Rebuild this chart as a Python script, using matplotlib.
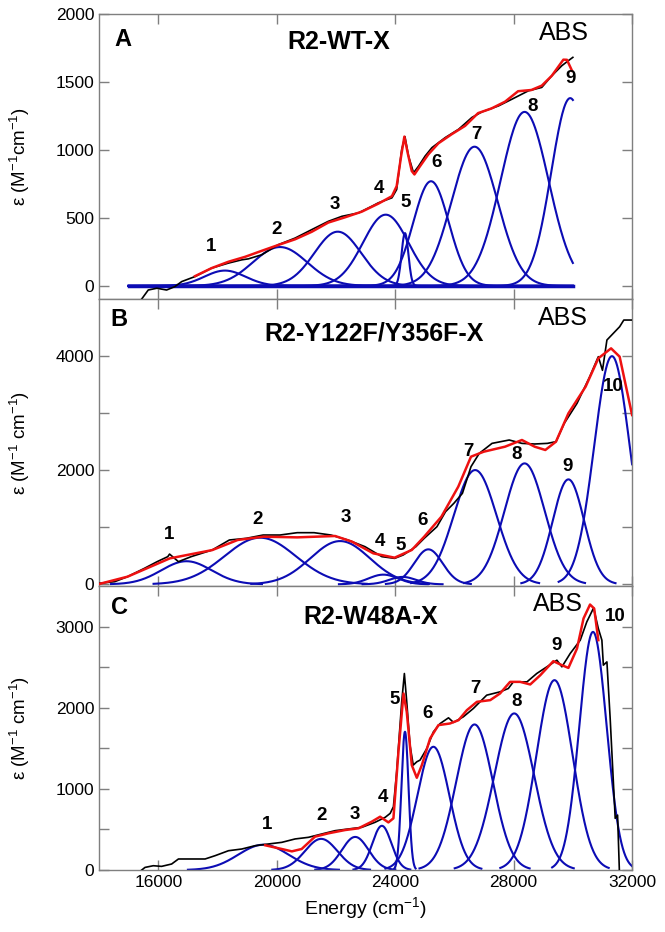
import numpy as np
import matplotlib
matplotlib.use("Agg")
import matplotlib.pyplot as plt

plt.rcParams['font.family'] = ['Liberation Sans', 'DejaVu Sans']
plt.rcParams['mathtext.fontset'] = 'custom'
plt.rcParams['mathtext.rm'] = 'Liberation Sans'
plt.rcParams['mathtext.default'] = 'regular'

# ---------------- panel A : R2-WT-X ----------------
a_abs_e = [15440, 15660, 15950, 16280, 16560, 16790, 17240, 17800, 18370, 18820, 19040,
           19490, 20050, 20620, 21180, 21740, 22200, 22760, 23210, 23430, 23890, 24050,
           24220, 24330, 24450, 24620, 24790, 25010, 25240, 25690, 26140, 26590, 26930,
           27490, 27940, 28500, 28950, 29290, 29630, 29850, 30000]
a_abs_v = [-96, -30, -17, -30, -5, 32, 69, 131, 168, 192, 199,
           229, 303, 352, 414, 475, 512, 537, 586, 611, 648, 709,
           1004, 1098, 955, 832, 881, 955, 1017, 1091, 1152, 1239, 1280,
           1324, 1373, 1435, 1460, 1546, 1620, 1657, 1681]
a_fit_e = [17240, 17800, 18370, 18930, 19490, 20050, 20620, 21180, 21740, 22310, 22870,
           23430, 23890, 24050, 24200, 24310, 24420, 24560, 24650, 24840, 25120, 25460,
           25910, 26360, 26800, 27250, 27710, 28150, 28600, 28950, 29290, 29680, 29800, 29970]
a_fit_v = [72, 131, 178, 214, 258, 301, 343, 398, 466, 505, 546,
           605, 660, 734, 955, 1098, 980, 845, 820, 881, 968, 1049,
           1116, 1177, 1271, 1305, 1355, 1432, 1441, 1473, 1546, 1664, 1663, 1583]
a_band_c = [18250, 20110, 22060, 23680, 24330, 25210, 26680, 28370, 29910]
a_band_h = [113, 286, 399, 524, 389, 770, 1024, 1280, 1381]
a_band_s = [690, 920, 790, 770, 115, 600, 780, 810, 640]
a_lab_e = [17780, 20000, 21950, 23450, 24370, 25410, 26740, 28630, 29920]
a_lab_v = [289, 417, 596, 718, 613, 909, 1110, 1319, 1522]

# ---------------- panel B : R2-Y122F/Y356F-X ----------------
b_abs_e = [14000, 14530, 14960, 15530, 15960, 16320, 16380, 16680, 17110, 17820, 18400,
           18970, 19540, 20110, 20690, 21260, 21830, 22400, 22980, 23550, 23980, 24270,
           24700, 24980, 25410, 25700, 25980, 26270, 26560, 26840, 27270, 27850, 28280,
           28710, 29140, 29430, 29710, 30140, 30570, 30860, 31000, 31150, 31580, 31720, 32000]
b_abs_v = [18, 47, 134, 280, 397, 485, 530, 397, 485, 602, 777,
           806, 864, 864, 905, 905, 864, 777, 660, 485, 455, 514,
           660, 806, 1010, 1273, 1419, 1594, 2062, 2295, 2470, 2529, 2470,
           2459, 2470, 2500, 2821, 3171, 3638, 3989, 3750, 4281, 4514, 4631, 4631]
b_fit_e = [14000, 14960, 16390, 17820, 18680, 19540, 20690, 21970, 22540, 23260, 23980,
           24560, 24980, 25560, 26130, 26560, 26990, 27710, 28280, 28710, 29070, 29430,
           29850, 30430, 30860, 31290, 31580, 32000]
b_fit_v = [6, 134, 455, 600, 777, 835, 823, 847, 748, 543, 467,
           602, 835, 1185, 1711, 2237, 2324, 2412, 2529, 2412, 2354, 2500,
           2996, 3463, 3960, 4135, 3989, 2967]
b_band_c = [16950, 19440, 22140, 23600, 24250, 25120, 26700, 28370, 29850, 31320]
b_band_h = [405, 817, 758, 170, 130, 613, 2002, 2119, 1839, 3998]
b_band_s = [850, 1200, 1000, 500, 450, 478, 720, 680, 530, 600]
b_lab_e = [16360, 19350, 22330, 23480, 24200, 24940, 26460, 28090, 29820, 31380]
b_lab_v = [876, 1139, 1168, 748, 689, 1127, 2324, 2283, 2073, 3463]

# ---------------- panel C : R2-W48A-X ----------------
c_abs_e = [15440, 15550, 15830, 16110, 16450, 16680, 17130, 17580, 17920, 18370, 18820,
           19270, 19720, 20170, 20620, 21070, 21520, 21970, 22420, 22870, 23320, 23660,
           23830, 23940, 24050, 24220, 24310, 24390, 24500, 24610, 24730, 24840, 25070,
           25290, 25520, 25800, 25970, 26300, 26640, 27090, 27540, 27820, 27990, 28450,
           28780, 29120, 29460, 29630, 29910, 30250, 30470, 30700, 30860, 30980, 31030,
           31150, 31260, 31430, 31510, 31570]
c_abs_v = [0, 32, 53, 45, 74, 136, 136, 136, 177, 238, 259,
           300, 321, 341, 383, 403, 444, 485, 506, 526, 588, 649,
           698, 780, 1211, 2073, 2422, 2073, 1539, 1293, 1334, 1355, 1499,
           1703, 1806, 1876, 1819, 1888, 1991, 2155, 2196, 2237, 2319, 2319,
           2422, 2504, 2586, 2504, 2669, 2833, 3058, 3230, 2977, 2833, 2525,
           2565, 1868, 637, 677, 0]
c_fit_e = [19610, 20170, 20510, 20840, 21290, 21740, 22310, 22760, 23210, 23490, 23770,
           23940, 24110, 24280, 24390, 24560, 24730, 24900, 25180, 25460, 25850, 26140,
           26420, 26760, 27210, 27540, 27880, 28220, 28560, 28900, 29340, 29630, 29850,
           30140, 30360, 30580, 30720, 30860]
c_fit_v = [305, 259, 230, 259, 411, 452, 493, 514, 596, 657, 587,
           637, 1457, 2176, 1950, 1293, 1137, 1293, 1622, 1786, 1806, 1847,
           1970, 2073, 2094, 2176, 2319, 2319, 2287, 2401, 2574, 2525, 2491,
           2730, 3100, 3272, 3223, 2833]
c_band_c = [19550, 21500, 22650, 23550, 24330, 25290, 26680, 28020, 29380, 30680]
c_band_h = [312, 384, 408, 545, 1704, 1519, 1794, 1930, 2340, 2935]
c_band_s = [850, 550, 450, 320, 120, 540, 620, 670, 610, 460]
c_lab_e = [19660, 21500, 22650, 23590, 23980, 25100, 26700, 28100, 29450, 31420]
c_lab_v = [555, 670, 690, 896, 2100, 1923, 2240, 2075, 2766, 3124]

BLUE = '#0c0cb4'
RED = '#ee1111'
GREY = '#7f7f7f'

fig = plt.figure(figsize=(6.65, 9.32), dpi=100)
left, width = 0.149, 0.8015
axA = fig.add_axes([left, 0.6792, width, 0.3058])
axB = fig.add_axes([left, 0.3712, width, 0.3080])
axC = fig.add_axes([left, 0.0665, width, 0.3047])


def draw_bands(ax, cen, hgt, sig, span=None):
    for c, h, s in zip(cen, hgt, sig):
        if span is None:
            x = np.linspace(max(14000, c - 3 * s), min(32000, c + 3 * s), 300)
        else:
            x = np.linspace(span[0], span[1], 800)
        ax.plot(x, h * np.exp(-(x - c) ** 2 / (2 * s ** 2)), color=BLUE, lw=1.5, zorder=2)


panels = [
    (axA, 'A', 'R2-WT-X', a_abs_e, a_abs_v, a_fit_e, a_fit_v, a_band_c, a_band_h, a_band_s,
     a_lab_e, a_lab_v, (15000, 30000), (-96, 2000)),
    (axB, 'B', 'R2-Y122F/Y356F-X', b_abs_e, b_abs_v, b_fit_e, b_fit_v, b_band_c, b_band_h,
     b_band_s, b_lab_e, b_lab_v, None, (-30, 5000)),
    (axC, 'C', 'R2-W48A-X', c_abs_e, c_abs_v, c_fit_e, c_fit_v, c_band_c, c_band_h, c_band_s,
     c_lab_e, c_lab_v, None, (0, 3500)),
]
title_pos = {'A': (0.45, 0.90), 'B': (0.515, 0.88), 'C': (0.509, 0.892)}
abs_pos = {'A': (0.873, 0.932), 'B': (0.871, 0.933), 'C': (0.861, 0.937)}
let_pos = {'A': (0.029, 0.911), 'B': (0.021, 0.927), 'C': (0.023, 0.923)}

for (ax, let, title, ae, av, fe, fv, bc, bh, bs, le, lv, span, ylim) in panels:
    draw_bands(ax, bc, bh, bs, span)
    ax.plot(ae, av, color='black', lw=1.2, zorder=3)
    ax.plot(fe, fv, color=RED, lw=1.8, zorder=4)
    for i, (e, v) in enumerate(zip(le, lv)):
        ax.text(e, v, str(i + 1), ha='center', va='center', fontsize=13.5,
                fontweight='bold', zorder=5)
    ax.text(*let_pos[let], let, transform=ax.transAxes, ha='left', va='center',
            fontsize=17, fontweight='bold')
    ax.text(*title_pos[let], title, transform=ax.transAxes, ha='center', va='center',
            fontsize=18, fontweight='bold')
    ax.text(*abs_pos[let], 'ABS', transform=ax.transAxes, ha='center', va='center',
            fontsize=18)
    if span is not None:
        ax.plot(span, [0, 0], color=BLUE, lw=2.5, zorder=2)
    ax.set_xlim(14000, 32000)
    ax.set_ylim(*ylim)
    ax.set_xticks([16000, 20000, 24000, 28000, 32000])
    ax.tick_params(direction='in', length=7, width=1, color=GREY, top=True, right=True,
                   labelsize=12.5)
    for sp in ax.spines.values():
        sp.set_color(GREY)
        sp.set_linewidth(1.0)

axA.set_yticks([0, 500, 1000, 1500, 2000])
axB.set_yticks([0, 1000, 2000, 3000, 4000])
axB.set_yticklabels(['0', '', '2000', '', '4000'])
axC.set_yticks([0, 500, 1000, 1500, 2000, 2500, 3000])
axC.set_yticklabels(['0', '', '1000', '', '2000', '', '3000'])
axA.tick_params(labelbottom=False)
axB.tick_params(labelbottom=False)

axA.set_ylabel(r'$\epsilon$ (M$^{-1}$cm$^{-1}$)', fontsize=13.5)
axB.set_ylabel(r'$\epsilon$ (M$^{-1}$ cm$^{-1}$)', fontsize=13.5)
axC.set_ylabel(r'$\epsilon$ (M$^{-1}$ cm$^{-1}$)', fontsize=13.5)
for ax in (axA, axB, axC):
    ax.yaxis.set_label_coords(-0.125, 0.5)
axC.set_xlabel(r'Energy (cm$^{-1}$)', fontsize=14, labelpad=4)

fig.savefig('out.png', dpi=100)
